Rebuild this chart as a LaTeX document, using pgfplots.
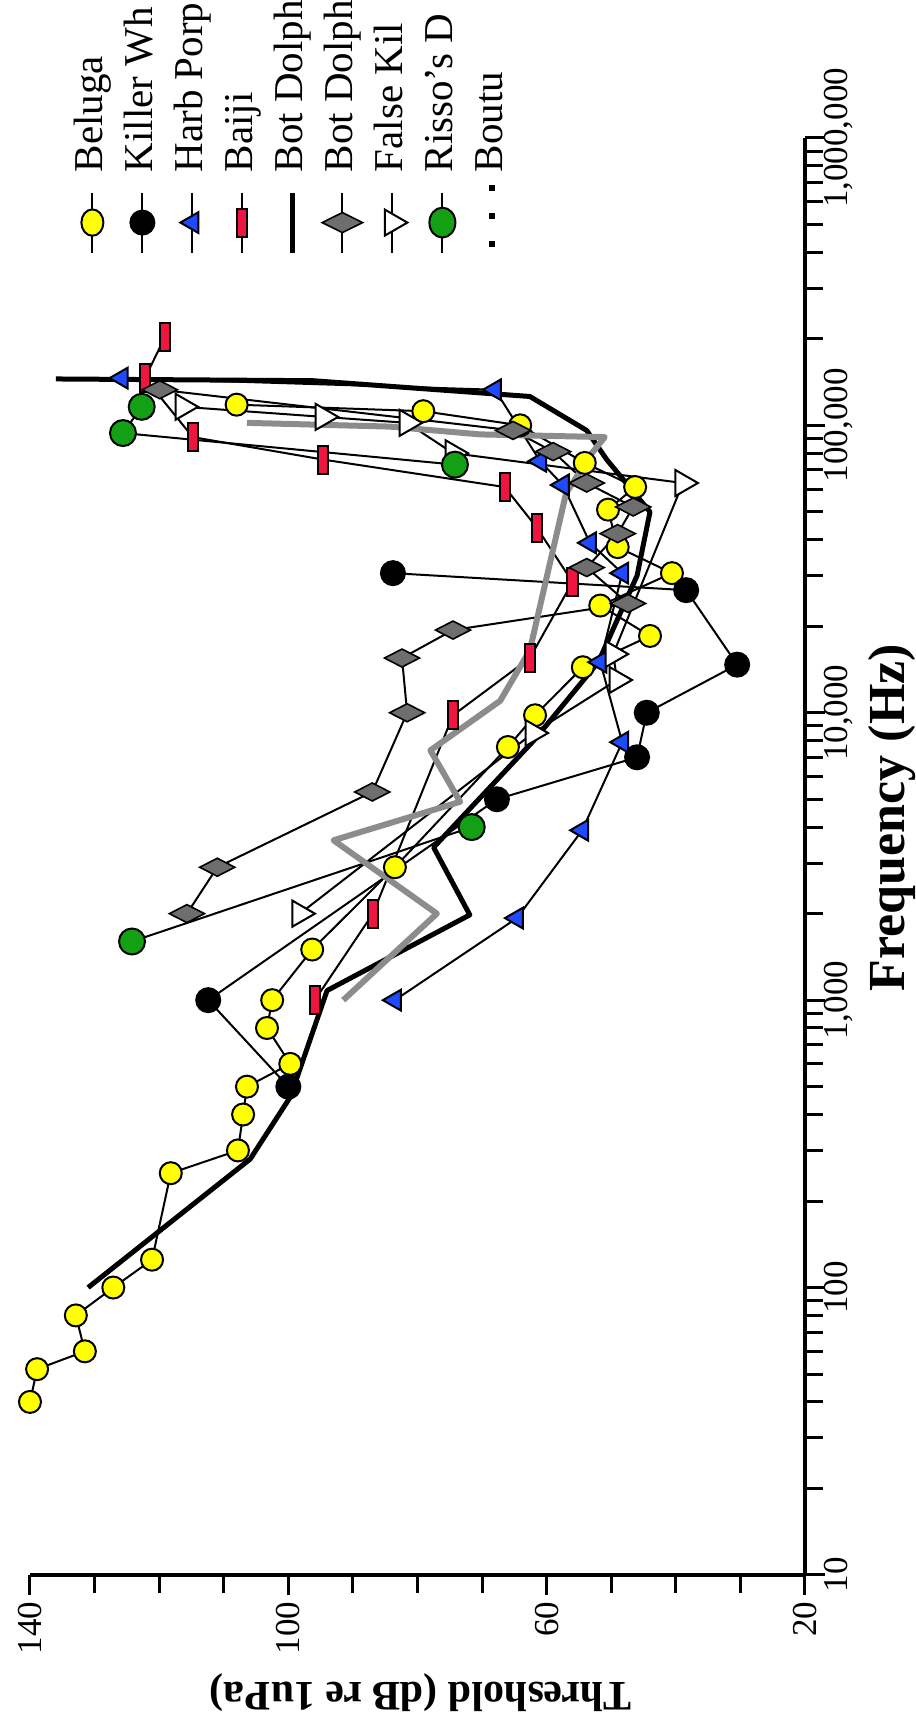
\documentclass[border=0pt]{standalone}
\usepackage{fontspec}
\setmainfont{Liberation Serif}
\usepackage{pgfplots}
\pgfplotsset{compat=1.18}

\definecolor{bel}{HTML}{FFFF00}
\definecolor{porp}{HTML}{1E4BFF}
\definecolor{baiji}{HTML}{F01440}
\definecolor{risso}{HTML}{14A014}
\definecolor{dia}{HTML}{6E6E6E}
\definecolor{boutu}{HTML}{8C8C8C}

\begin{document}
\begin{tikzpicture}
\begin{axis}[
  scale only axis, width=387.5pt, height=718.5pt,
  x dir=reverse, xmin=20, xmax=140,
  ymode=log, ymin=10, ymax=1000000,
  axis x line*=bottom, axis y line*=right,
  axis line style={-, line width=1.8pt},
  clip=false, unbounded coords=jump,
  xtick={20,60,100,140}, xticklabels={20,60,100,140},
  minor xtick={30,40,50,70,80,90,110,120,130},
  ytick={10,100,1000,10000,100000,1000000},
  yticklabels={10,100,{1,000},{10,000},{100,000},{1,000,000}},
  tick align=outside,
  major tick length=10pt, minor tick length=9pt,
  tick style={black, line width=1.5pt},
  ticklabel style={font=\fontsize{17.5}{19}\selectfont},
  xticklabel style={rotate=90, anchor=east},
  yticklabel style={rotate=90, anchor=north},
  yticklabel shift=-4pt,
  xlabel={\textbf{Threshold (dB re 1uPa)}},
  ylabel={\textbf{Frequency (Hz)}},
  xlabel style={at={(axis description cs:0.5045,-0.0821)}, anchor=center, rotate=180, font=\fontsize{21}{23}\selectfont},
  ylabel style={at={(axis description cs:1.112,0.527)}, anchor=center, font=\fontsize{26}{28}\selectfont},
  legend columns=-1,
  legend style={at={(axis description cs:0.0542,0.9756)}, anchor=south west,
    draw=none, fill=none, font=\fontsize{20.5}{22}\selectfont,
    inner sep=0pt,
    nodes={inner sep=0pt, text height=15pt, text depth=5pt, rotate=90},
    /tikz/every odd column/.style={column sep=0pt},
    /tikz/every even column/.style={column sep=5pt}},
  legend cell align=left,
  legend image code/.code={\draw[overlay,mark repeat=2,mark phase=2,#1] plot coordinates {(10pt,-10pt)(10pt,-25pt)(10pt,-40pt)};},
]
% Beluga
\addplot[black, line width=1pt, mark=*, mark size=5.5pt,
  mark options={fill=bel, draw=black, line width=1pt},
  legend image post style={mark options={fill=bel, draw=black, line width=1pt, yscale=1.2}}]
coordinates {(140,40) (138.9,52) (131.5,60) (132.9,80) (127.1,100) (121.1,125) (118.2,250) (107.8,300) (107,400) (106.4,500) (99.7,600) (103.3,800) (102.5,1000) (96.3,1500) (83.5,2900) (66,7600) (61.8,9800) (54.4,14400) (44,18500) (51.7,23600) (40.6,30600) (49,37700) (50.5,50900) (46.3,61000) (54.1,74000) (64.1,100000) (79.1,112000) (108,118000)};
\addlegendentry{Beluga}
% Killer whale
\addplot[black, line width=1pt, mark=*, mark size=6pt,
  mark options={fill=black, draw=black}]
coordinates {(100,500) (112.4,1000) (67.7,5000) (46,7000) (44.5,10000) (30.5,14700) (38.4,26700) (83.8,30600)};
\addlegendentry{Killer Wh}
% Harbour porpoise
\addplot[black, line width=1pt, mark=triangle*, mark size=6pt,
  mark options={rotate=90, fill=porp, draw=black, line width=1pt}]
coordinates {(83.5,1000) (64.6,1930) (54.5,3900) (48.3,7900) (51.7,15000) (48.3,30600) (53.3,39000) (57.5,62000) (61,75000) (68,133000) (125.8,146000)};
\addlegendentry{Harb Porp}
% Baiji
\addplot[black, line width=1pt, mark=square*, mark size=7pt,
  mark options={xscale=0.36, fill=baiji, draw=black, line width=1pt}]
coordinates {(95.9,1000) (86.9,2000) (74.5,9800) (62.6,15500) (56,28500) (61.5,44000) (66.5,61000) (94.6,76000) (114.8,91000) (122.2,146000) (119.1,203000)};
\addlegendentry{Baiji}
% Bottlenose dolphin (line)
\addplot[black, line width=2.5pt, line join=round, no marks]
coordinates {(131,100) (105.9,280) (99.7,460) (94,1080) (71.9,1980) (77.5,3400) (62,8000) (52,15000) (46,30000) (44,50000) (50.7,76000) (53.8,96000) (62.6,126000) (96.2,143000) (136,145000)};
\addlegendentry{Bot Dolph}
% Bottlenose dolphin (diamonds)
\addplot[black, line width=1pt, mark=diamond*, mark size=4.5pt,
  mark options={xscale=2.6, fill=dia, draw=black, line width=0.8pt},
  legend image post style={mark size=5pt, mark options={xscale=2.7, fill=dia, draw=black, line width=0.8pt}}]
coordinates {(115.7,2000) (111,2900) (87,5300) (81.6,10000) (82.4,15500) (74.5,19400) (47.4,24000) (53.8,32000) (49,42000) (46.6,52000) (53.8,63000) (59,81000) (65.2,96000) (119.9,133000)};
\addlegendentry{Bot Dolph}
% False killer whale
\addplot[black, line width=1pt, mark=triangle*, mark size=7.5pt,
  mark options={rotate=-90, fill=white, draw=black, line width=1pt}]
coordinates {(98.2,2000) (62.1,8500) (49.1,13000) (49.7,16000) (38.9,63000) (74.5,80000) (81.6,102000) (94.6,107000) (116.3,116000)};
\addlegendentry{False Kil}
% Risso's dolphin
\addplot[black, line width=1pt, mark=*, mark size=6.5pt,
  mark options={fill=risso, draw=black, line width=1pt},
  legend image post style={mark options={fill=risso, draw=black, line width=1pt, yscale=1.15}}]
coordinates {(124.2,1600) (71.6,4000) (nan,nan) (74.2,73000) (125.6,94000) (122.7,116000)};
\addlegendentry{Risso's D}
% Boutu
\addplot[boutu, line width=3pt, line join=round, no marks,
  legend image code/.code={\draw[overlay, black, line width=3pt, dash pattern=on 3pt off 11pt] (10pt,-6pt) -- (10pt,-40pt);}]
coordinates {(91.5,1000) (77,2000) (93,3600) (73.4,4900) (78,7400) (67.2,11000) (62.6,16500) (57,58000) (53,80000) (51,91000) (70.3,93000) (84.3,99000) (106.4,102000)};
\addlegendentry{Boutu}
\coordinate (bbll) at (axis description cs:-0.0387,-0.1072);
\coordinate (bbur) at (axis description cs:1.1432,1.0960);
\end{axis}
\pgfresetboundingbox
\path[use as bounding box] (bbll) rectangle (bbur);
\end{tikzpicture}
\end{document}
